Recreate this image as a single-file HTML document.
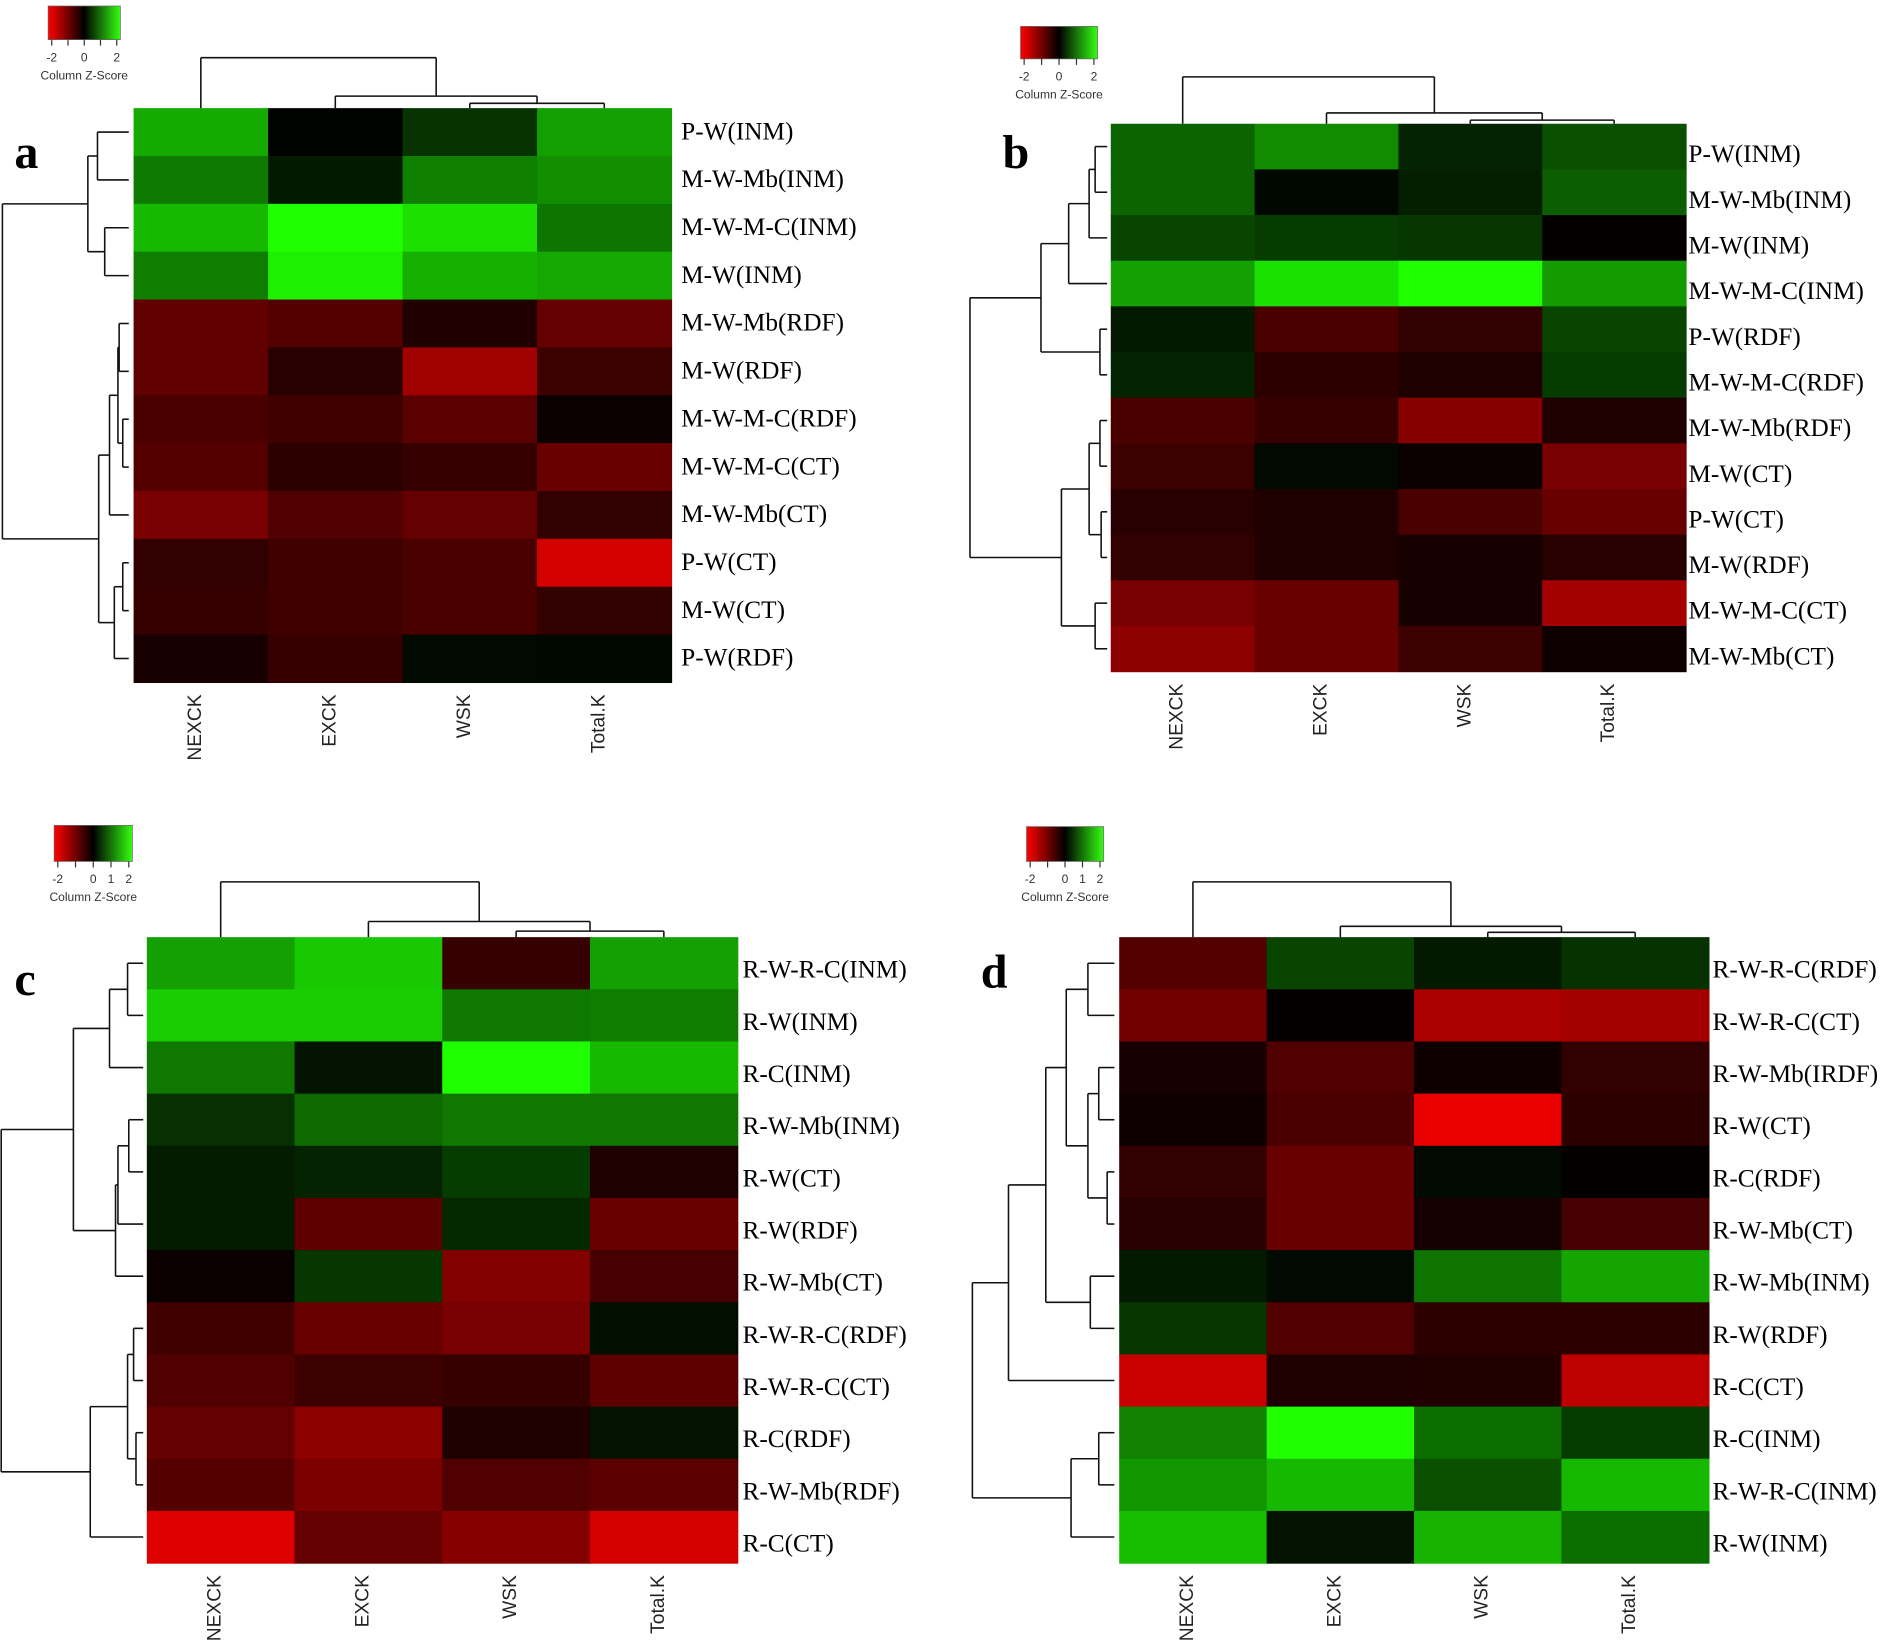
<!DOCTYPE html>
<html><head><meta charset="utf-8"><style>
html,body{margin:0;padding:0;background:#fff;}
svg{display:block;}
.rl{font-family:"Liberation Serif",serif;font-size:21px;fill:#000;}
.cl{font-family:"Liberation Sans",sans-serif;font-size:16px;fill:#222;}
.kt{font-family:"Liberation Sans",sans-serif;font-size:10px;fill:#333;}
.pl{font-family:"Liberation Serif",serif;font-size:40px;font-weight:bold;fill:#000;}
</style></head><body>
<svg id="fig" width="1887" height="1646" viewBox="0 0 1568 1370" preserveAspectRatio="none" xmlns="http://www.w3.org/2000/svg">
<defs><linearGradient id="kg" x1="0" x2="1" y1="0" y2="0"><stop offset="0" stop-color="#ff0000"/><stop offset="0.5" stop-color="#000"/><stop offset="1" stop-color="#33ff11"/></linearGradient></defs>
</svg>
<script>
const columns = ["NEXCK","EXCK","WSK","Total.K"];
const rowsA = ["P-W(INM)","M-W-Mb(INM)","M-W-M-C(INM)","M-W(INM)","M-W-Mb(RDF)","M-W(RDF)","M-W-M-C(RDF)","M-W-M-C(CT)","M-W-Mb(CT)","P-W(CT)","M-W(CT)","P-W(RDF)"];
const valuesA = [[1.70,0.03,0.51,1.60],[1.22,0.26,1.28,1.43],[1.84,2.55,2.24,1.17],[1.25,2.40,1.76,1.68],[-0.96,-0.85,-0.32,-1.01],[-0.96,-0.40,-1.60,-0.60],[-0.75,-0.65,-0.90,-0.10],[-0.85,-0.45,-0.55,-1.05],[-1.20,-0.80,-1.00,-0.50],[-0.50,-0.65,-0.75,-2.12],[-0.55,-0.65,-0.75,-0.50],[-0.25,-0.55,0.10,0.08]];
const rowsB = ["P-W(INM)","M-W-Mb(INM)","M-W(INM)","M-W-M-C(INM)","P-W(RDF)","M-W-M-C(RDF)","M-W-Mb(RDF)","M-W(CT)","P-W(CT)","M-W(RDF)","M-W-M-C(CT)","M-W-Mb(CT)"];
const valuesB = [[1.00,1.40,0.35,0.80],[1.00,0.08,0.30,0.95],[0.70,0.60,0.55,-0.05],[1.60,2.25,2.55,1.55],[0.25,-0.75,-0.50,0.70],[0.35,-0.45,-0.30,0.60],[-0.75,-0.55,-1.35,-0.30],[-0.60,0.10,-0.10,-1.20],[-0.40,-0.30,-0.75,-1.05],[-0.50,-0.30,-0.25,-0.40],[-1.20,-1.05,-0.25,-1.65],[-1.40,-1.05,-0.60,-0.15]];
const rowsC = ["R-W-R-C(INM)","R-W(INM)","R-C(INM)","R-W-Mb(INM)","R-W(CT)","R-W(RDF)","R-W-Mb(CT)","R-W-R-C(RDF)","R-W-R-C(CT)","R-C(RDF)","R-W-Mb(RDF)","R-C(CT)"];
const valuesC = [[1.60,2.00,-0.55,1.60],[2.05,2.05,1.20,1.25],[1.20,0.20,2.55,1.85],[0.48,1.05,1.20,1.20],[0.28,0.35,0.60,-0.30],[0.28,-0.95,0.40,-1.05],[-0.10,0.55,-1.30,-0.70],[-0.65,-1.05,-1.20,0.15],[-0.80,-0.60,-0.55,-0.95],[-1.00,-1.40,-0.30,0.20],[-0.85,-1.25,-0.80,-0.90],[-2.20,-1.00,-1.35,-2.10]];
const rowsD = ["R-W-R-C(RDF)","R-W-R-C(CT)","R-W-Mb(IRDF)","R-W(CT)","R-C(RDF)","R-W-Mb(CT)","R-W-Mb(INM)","R-W(RDF)","R-C(CT)","R-C(INM)","R-W-R-C(INM)","R-W(INM)"];
const valuesD = [[-0.85,0.70,0.25,0.50],[-1.15,-0.05,-1.70,-1.65],[-0.25,-0.80,-0.15,-0.50],[-0.15,-0.75,-2.35,-0.45],[-0.50,-1.05,0.10,-0.05],[-0.40,-1.05,-0.20,-0.70],[0.25,0.10,1.15,1.65],[0.55,-0.80,-0.45,-0.45],[-2.00,-0.30,-0.35,-1.90],[1.30,2.55,1.10,0.60],[1.50,1.85,0.80,1.85],[1.90,0.20,1.80,1.10]];

const NS="http://www.w3.org/2000/svg";
const svg=document.getElementById('fig');
function mk(tag,attrs,parent){const e=document.createElementNS(NS,tag);for(const k in attrs)e.setAttribute(k,attrs[k]);(parent||svg).appendChild(e);return e;}
function color(z){const i=Math.min(255,Math.round(Math.abs(z)*100));return z>=0?`rgb(${Math.round(i*0.12)},${i},0)`:`rgb(${i},0,0)`;}

function panel(cfg){
  const g=mk('g',{});
  
  
  const n=cfg.rows.length, cw=(cfg.x1-cfg.x0)/4, rh=(cfg.y1-cfg.y0)/n;
  const xs=j=>cfg.x0+j*cw, ys=i=>cfg.y0+i*rh;
  cfg.values.forEach((row,i)=>row.forEach((v,j)=>{
    const r=mk('rect',{x:xs(j),y:ys(i),width:cw+0.5,height:rh+0.5,fill:color(v)},g);
    
    
  }));
  cfg.rows.forEach((lab,i)=>{
    const t=mk('text',{x:cfg.lx,y:ys(i)+rh/2+7+(cfg.ly||0),class:'rl'},g);t.textContent=lab;
    
    
  });
  columns.forEach((lab,j)=>{
    const cx=xs(j)+cw/2, cy=cfg.y1+10;
    const t=mk('text',{x:cx,y:cy,class:'cl','text-anchor':'end',transform:`rotate(-90 ${cx} ${cy})`},g);t.textContent=lab;
    
    
  });
  const dg=mk('g',{stroke:'#111','stroke-width':1.3,fill:'none'},g);
  
  
  function rowNode(t){
    if(typeof t==='number') return {y:ys(t)+rh/2,x:cfg.leafX};
    const a=rowNode(t[0]),b=rowNode(t[1]),h=t[2];
    mk('line',{x1:h,x2:h,y1:a.y,y2:b.y},dg);
    mk('line',{x1:h,x2:a.x,y1:a.y,y2:a.y},dg);
    mk('line',{x1:h,x2:b.x,y1:b.y,y2:b.y},dg);
    return {y:(a.y+b.y)/2,x:h};
  }
  rowNode(cfg.rowTree);
  const cg=mk('g',{stroke:'#111','stroke-width':1.3,fill:'none'},g);
  
  
  function colNode(t){
    if(typeof t==='number') return {x:xs(t)+cw/2,y:cfg.y0};
    const a=colNode(t[0]),b=colNode(t[1]),h=t[2];
    mk('line',{y1:h,y2:h,x1:a.x,x2:b.x},cg);
    mk('line',{y1:h,y2:a.y,x1:a.x,x2:a.x},cg);
    mk('line',{y1:h,y2:b.y,x1:b.x,x2:b.x},cg);
    return {x:(a.x+b.x)/2,y:h};
  }
  colNode(cfg.colTree);
  const k=cfg.key;
  const kg=mk('g',{},g);
  
  
  mk('rect',{x:k.x,y:k.y,width:k.w,height:k.h,fill:'url(#kg)',stroke:'#666','stroke-width':0.6},kg);
  for(let i=0;i<5;i++){const tx=k.x+3+i*(k.w-6)/4;mk('line',{x1:tx,x2:tx,y1:k.y+k.h,y2:k.y+k.h+5,stroke:'#333','stroke-width':1},kg);}
  k.ticks.forEach(tk=>{const tx=k.x+3+(tk+2)/4*(k.w-6);const t=mk('text',{x:tx,y:k.y+k.h+18,class:'kt','text-anchor':'middle'},kg);t.textContent=tk;});
  const zt=mk('text',{x:k.x+k.w/2,y:k.y+k.h+33,class:'kt','text-anchor':'middle'},kg);zt.textContent='Column Z-Score';
  const pl=mk('text',{x:cfg.px,y:cfg.py,class:'pl'},g);pl.textContent=cfg.id;
  
  
}
panel({id:'a',rows:rowsA,values:valuesA,x0:111,x1:558,y0:90,y1:568,lx:566,leafX:107,ly:-1,
  rowTree:[[[0,1,81],[2,3,87],73],[[[[4,5,99],[6,7,102],98],8,91],[[9,10,102],11,95],82],2],
  colTree:[0,[1,[2,3,86],80],48],key:{x:40,y:5,w:60,h:28,ticks:[-2,0,2]},px:12,py:140});
panel({id:'b',rows:rowsB,values:valuesB,x0:923,x1:1401,y0:103,y1:559,lx:1403,leafX:920,ly:6,
  rowTree:[[[[[0,1,910],2,905],3,888],[4,5,914],865],[[[6,7,914],[8,9,915],905],[10,11,910],882],806],
  colTree:[0,[1,[2,3,100],94],64],key:{x:848,y:22,w:64,h:27,ticks:[-2,0,2]},px:833,py:140});
panel({id:'c',rows:rowsC,values:valuesC,x0:122,x1:613,y0:780,y1:1301,lx:617,leafX:119,ly:5,
  rowTree:[[[[0,1,106],2,91],[[[3,4,107],5,98],6,96],61],[[[7,8,111],[9,10,113],106],11,75],1],
  colTree:[0,[1,[2,3,775],767],734],key:{x:45,y:687,w:65,h:30,ticks:[-2,0,1,2]},px:12,py:828});
panel({id:'d',rows:rowsD,values:valuesD,x0:930,x1:1420,y0:780,y1:1301,lx:1423,leafX:926,ly:5,
  rowTree:[[[[[0,1,904],[[2,3,913],[4,5,920],904],886],[6,7,906],869],8,838],[[9,10,913],11,890],808],
  colTree:[0,[1,[2,3,776],771],734],key:{x:853,y:688,w:64,h:29,ticks:[-2,0,1,2]},px:815,py:822});
</script>
</body></html>
